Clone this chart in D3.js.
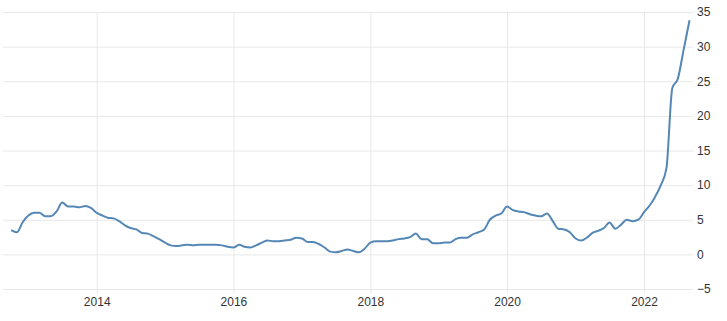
<!DOCTYPE html>
<html>
<head>
<meta charset="utf-8">
<script src="https://cdn.jsdelivr.net/npm/d3@7"></script>
<style>
  body { margin: 0; background: #fff; }
  svg { display: block; font-family: "Liberation Sans", Arial, sans-serif; }
  .grid line { stroke: #e8e8e8; stroke-width: 1; }
  .tick text { fill: #333; font-size: 12px; }
</style>
</head>
<body>
<svg id="chart" width="727" height="321"></svg>
<script>
// monthly values, Oct 2012 .. Sep 2022
const startMonth = new Date(2012, 9, 1);
const values = [
  3.5, 3.2, 4.6,
  5.6, 6.0, 6.0, 5.5, 5.5, 6.2, 7.5, 6.9, 6.9, 6.8, 7.0, 6.7,
  6.0, 5.6, 5.3, 5.2, 4.8, 4.2, 3.8, 3.6, 3.1, 3.0, 2.6, 2.2,
  1.7, 1.3, 1.2, 1.3, 1.4, 1.3, 1.4, 1.4, 1.4, 1.4, 1.3, 1.1,
  1.0, 1.4, 1.1, 1.0, 1.3, 1.7, 2.0, 1.9, 1.9, 2.0, 2.1, 2.4,
  2.3, 1.8, 1.8, 1.5, 1.0, 0.4, 0.3, 0.5, 0.7, 0.5, 0.3, 0.8,
  1.7, 1.9, 1.9, 1.9, 2.0, 2.2, 2.3, 2.5, 3.0, 2.2, 2.2, 1.6,
  1.6, 1.7, 1.7, 2.2, 2.4, 2.4, 2.9, 3.2, 3.6, 5.0, 5.6, 5.9,
  6.9, 6.4, 6.2, 6.1, 5.8, 5.6, 5.5, 5.9, 4.8, 3.7, 3.6, 3.2,
  2.3, 2.0, 2.4, 3.1, 3.4, 3.8, 4.6, 3.7, 4.3, 5.0, 4.8, 5.0,
  6.1, 7.1, 8.3, 10.0, 12.5, 24.0, 25.4, 29.6, 33.8
];
const yTicks = [-5, 0, 5, 10, 15, 20, 25, 30, 35];
const xTickYears = [2014, 2016, 2018, 2020, 2022];

const data = values.map((v, i) => ({
  date: new Date(startMonth.getFullYear(), startMonth.getMonth() + i, 1),
  value: v
}));

const svg = d3.select('#chart');
const plotLeft = 3, plotRight = 693, plotTop = 12, plotBottom = 289;

const x = d3.scaleTime()
  .domain([new Date(2014, 0, 1), new Date(2022, 0, 1)])
  .range([96.7, 644]);
const y = d3.scaleLinear().domain([-5, 35]).range([plotBottom, plotTop]);

// horizontal grid + right labels
const yAxis = svg.append('g')
  .attr('class', 'grid')
  .attr('transform', `translate(${plotRight},0)`)
  .call(d3.axisRight(y).tickValues(yTicks).tickSize(-(plotRight - plotLeft)).tickPadding(4)
    .tickFormat(d3.format('d')));
yAxis.select('.domain').remove();

// vertical grid + bottom labels
const xAxis = svg.append('g')
  .attr('class', 'grid')
  .attr('transform', `translate(0,${plotBottom + 4})`)
  .call(d3.axisBottom(x).tickValues(xTickYears.map(yr => new Date(yr, 0, 1)))
    .tickSize(-(plotBottom + 4 - plotTop)).tickPadding(4).tickFormat(d3.timeFormat('%Y')));
xAxis.select('.domain').remove();
xAxis.selectAll('text').attr('font-size', 11);

// the series line
const line = d3.line()
  .x(d => x(d.date))
  .y(d => y(d.value))
  .curve(d3.curveMonotoneX);

svg.append('path')
  .datum(data)
  .attr('fill', 'none')
  .attr('stroke', '#5587b6')
  .attr('stroke-width', 2)
  .attr('stroke-linejoin', 'round')
  .attr('d', line);
</script>
</body>
</html>
